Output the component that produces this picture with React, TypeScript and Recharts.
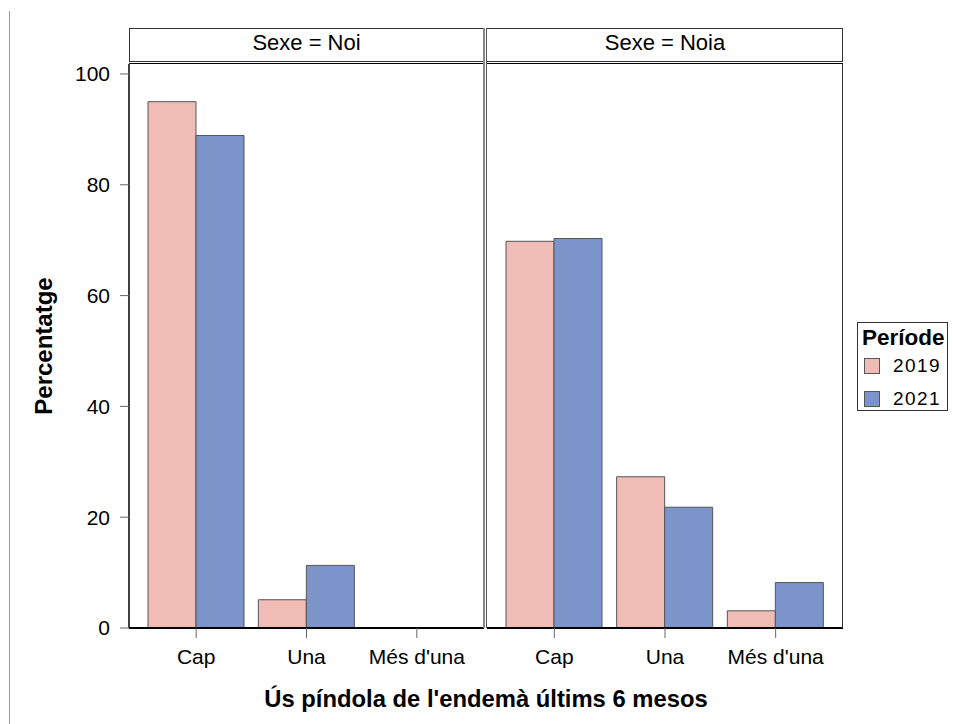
import React from "react";
import { BarChart, Bar, XAxis, YAxis, Legend } from "recharts";

const categories = ["Cap", "Una", "Més d'una"];
const noi2019 = [95.0, 5.1, 0];
const noi2021 = [88.9, 11.3, 0];
const noia2019 = [69.8, 27.3, 3.1];
const noia2021 = [70.3, 21.8, 8.2];
const periods = ["2019", "2021"];
const yTicks = [0, 20, 40, 60, 80, 100];
const panelLabels = ["Sexe = Noi", "Sexe = Noia"];

const PINK = "#EFBDB6";
const BLUE = "#7B95CB";
const OUTLINE = "#555555";
const FONT = "'Liberation Sans', Arial, sans-serif";

const noiData = categories.map((c, i) => ({ cat: c, p2019: noi2019[i], p2021: noi2021[i] }));
const noiaData = categories.map((c, i) => ({ cat: c, p2019: noia2019[i], p2021: noia2021[i] }));

const tickStyle = { fontSize: 21, fill: "#000", fontFamily: FONT };

const LegendBox = (props: any) => {
  const payload = props.payload || [];
  return (
    <div
      style={{
        width: 91,
        height: 89,
        border: "1px solid #333",
        background: "#fff",
        fontFamily: FONT,
        boxSizing: "border-box",
        position: "relative",
      }}
    >
      <div style={{ position: "absolute", left: 4, top: 3, fontWeight: "bold", fontSize: 22.5, lineHeight: "24px" }}>
        Període
      </div>
      {payload.map((p: any, i: number) => (
        <div key={p.value} style={{ position: "absolute", left: 6, top: 35 + i * 33, height: 16, display: "flex", alignItems: "center" }}>
          <div style={{ width: 16, height: 16, background: p.color, border: "1px solid #555", boxSizing: "border-box" }} />
          <span style={{ marginLeft: 13, fontSize: 19, letterSpacing: 1.4, lineHeight: "16px" }}>{p.value}</span>
        </div>
      ))}
    </div>
  );
};

export default function App() {
  return (
    <div style={{ position: "absolute", left: 0, top: 0, width: 953, height: 724, background: "#fff", fontFamily: FONT, overflow: "hidden" }}>
      {/* left page line */}
      <div style={{ position: "absolute", left: 9, top: 11, width: 1, height: 713, background: "#999" }} />

      {/* left panel chart */}
      <div style={{ position: "absolute", left: 0, top: 0 }}>
        <BarChart width={484} height={724} data={noiData} margin={{ top: 64, right: 0, bottom: 0, left: 0 }} barCategoryGap={7} barGap={0}>
          <XAxis
            dataKey="cat"
            height={96}
            padding={{ left: 12, right: 12 }}
            tick={tickStyle}
            tickSize={10}
            tickMargin={11}
            axisLine={{ stroke: "#000", strokeWidth: 2 }}
            tickLine={{ stroke: "#666" }}
            interval={0}
          />
          <YAxis
            width={129}
            domain={[0, 101.8]}
            ticks={yTicks}
            tick={tickStyle}
            tickSize={9}
            tickMargin={10}
            axisLine={{ stroke: "#000", strokeWidth: 1.5 }}
            tickLine={{ stroke: "#666" }}
            allowDataOverflow
          />
          <Bar dataKey="p2019" name={periods[0]} fill={PINK} stroke={OUTLINE} strokeWidth={1} isAnimationActive={false} />
          <Bar dataKey="p2021" name={periods[1]} fill={BLUE} stroke={OUTLINE} strokeWidth={1} isAnimationActive={false} />
        </BarChart>
      </div>

      {/* right panel chart */}
      <div style={{ position: "absolute", left: 487, top: 0 }}>
        <BarChart width={466} height={724} data={noiaData} margin={{ top: 64, right: 110, bottom: 0, left: 0 }} barCategoryGap={7} barGap={0}>
          <XAxis
            dataKey="cat"
            height={96}
            padding={{ left: 12, right: 12 }}
            tick={tickStyle}
            tickSize={10}
            tickMargin={11}
            axisLine={{ stroke: "#000", strokeWidth: 2 }}
            tickLine={{ stroke: "#666" }}
            interval={0}
          />
          <YAxis hide width={0} domain={[0, 101.8]} ticks={yTicks} allowDataOverflow />
          <Bar dataKey="p2019" name={periods[0]} fill={PINK} stroke={OUTLINE} strokeWidth={1} isAnimationActive={false} />
          <Bar dataKey="p2021" name={periods[1]} fill={BLUE} stroke={OUTLINE} strokeWidth={1} isAnimationActive={false} />
          <Legend
            layout="vertical"
            align="center"
            verticalAlign="middle"
            content={<LegendBox />}
            wrapperStyle={{ position: "absolute", left: 370, top: 322, width: 92, height: 91 }}
          />
        </BarChart>
      </div>

      {/* overlay: strips, panel borders, titles */}
      <svg width={953} height={724} style={{ position: "absolute", left: 0, top: 0, pointerEvents: "none" }}>
        <rect x={129.5} y={28.5} width={355} height={33} fill="none" stroke="#333" strokeWidth={1} />
        <rect x={486.5} y={28.5} width={356} height={33} fill="none" stroke="#333" strokeWidth={1} />
        <text x={306.5} y={50} textAnchor="middle" fontSize={22} fontFamily={FONT} fill="#000">{panelLabels[0]}</text>
        <text x={665} y={50} textAnchor="middle" fontSize={22} fontFamily={FONT} fill="#000">{panelLabels[1]}</text>
        <line x1={129} y1={63.5} x2={484} y2={63.5} stroke="#000" strokeWidth={1} />
        <line x1={487} y1={63.5} x2={843} y2={63.5} stroke="#000" strokeWidth={1} />
        <line x1={484} y1={28} x2={484} y2={628} stroke="#888" strokeWidth={2} />
        <line x1={486.5} y1={28} x2={486.5} y2={628} stroke="#555" strokeWidth={1} />
        <line x1={842.5} y1={64} x2={842.5} y2={628} stroke="#333" strokeWidth={1} />
        <text x={486} y={707} textAnchor="middle" fontSize={23.8} fontWeight="bold" fontFamily={FONT} fill="#000">
          Ús píndola de l'endemà últims 6 mesos
        </text>
        <text x={52} y={346} textAnchor="middle" fontSize={24} fontWeight="bold" fontFamily={FONT} fill="#000" transform="rotate(-90 52 346)">
          Percentatge
        </text>
      </svg>
    </div>
  );
}
